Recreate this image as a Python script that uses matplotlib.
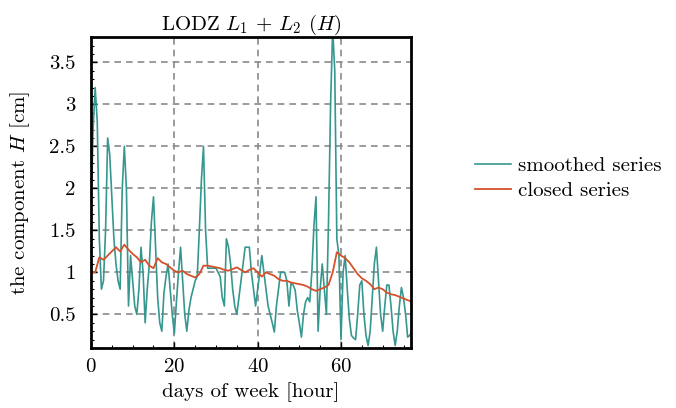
import numpy as np
import matplotlib
matplotlib.use('Agg')
from matplotlib import pyplot as plt
from matplotlib.ticker import MultipleLocator, FuncFormatter

plt.rcParams['font.family'] = ['cmr10', 'DejaVu Serif']
plt.rcParams['mathtext.fontset'] = 'cm'
plt.rcParams['axes.formatter.use_mathtext'] = True

title = r'LODZ $L_1$ + $L_2$ ($H$)'
x_label = 'days of week [hour]'
y_label = r'the component $H$ [cm]'
smooth_label = 'smoothed series'
closed_label = 'closed series'

# teal series, one value every half hour
smooth_hours = np.arange(0, 77.5, 0.5)
smooth_values = [
    1.7, 2.7, 3.2, 2.8, 1.4, 0.8, 0.9, 1.5, 2.6, 2.4,
    1.9, 1.4, 1.1, 0.9, 0.8, 2.0, 2.5, 2.0, 0.6, 1.2,
    0.9, 0.6, 0.5, 0.8, 1.3, 1.0, 0.4, 0.8, 1.1, 1.6,
    1.9, 1.3, 0.7, 0.4, 0.3, 0.75, 0.95, 1.1, 0.8, 0.5,
    0.27, 0.65, 1.0, 1.3, 0.9, 0.5, 0.3, 0.55, 0.7, 0.8,
    0.9, 0.95, 1.5, 2.1, 2.5, 1.5, 1.05, 1.05, 1.05, 1.05,
    1.05, 1.0, 0.95, 0.7, 0.6, 1.4, 1.3, 1.1, 0.8, 0.6,
    0.5, 0.7, 0.9, 1.1, 1.3, 1.3, 1.3, 1.0, 0.8, 0.6,
    0.8, 1.0, 1.2, 1.0, 0.8, 0.6, 0.5, 0.4, 0.29, 0.6,
    0.8, 1.0, 1.0, 1.0, 0.9, 0.6, 0.87, 0.85, 0.79, 0.55,
    0.4, 0.23, 0.5, 0.65, 0.7, 0.65, 1.0, 1.55, 1.9, 0.3,
    0.8, 1.1, 0.8, 0.5, 1.6, 3.0, 3.9, 3.4, 1.4, 1.2,
    0.2, 1.0, 1.2, 0.8, 0.45, 0.25, 0.22, 0.2, 0.5, 0.85,
    0.9, 0.5, 0.25, 0.13, 0.3, 0.7, 1.1, 1.3, 0.9, 0.5,
    0.3, 0.6, 0.85, 0.85, 0.6, 0.3, 0.13, 0.3, 0.6, 0.82,
    0.7, 0.5, 0.23, 0.25, 0.3,
]

# red series, one value every hour
closed_hours = np.arange(0, 78, 1)
closed_values = [
    1.0, 1.0, 1.18, 1.15, 1.2, 1.25, 1.3, 1.25, 1.33, 1.27,
    1.22, 1.18, 1.12, 1.15, 1.08, 1.05, 1.17, 1.12, 1.1, 1.06,
    1.02, 1.0, 1.02, 0.98, 0.96, 0.94, 0.98, 1.08, 1.08, 1.07,
    1.06, 1.05, 1.03, 1.02, 1.04, 1.06, 1.03, 1.0, 1.03, 1.05,
    1.0, 0.95, 1.0, 0.98, 0.96, 0.92, 0.9, 0.9, 0.88, 0.87,
    0.86, 0.85, 0.83, 0.8, 0.78, 0.8, 0.82, 0.85, 1.0, 1.24,
    1.2, 1.17, 1.12, 1.05, 0.98, 0.93, 0.9, 0.86, 0.8, 0.82,
    0.8, 0.76, 0.74, 0.73, 0.71, 0.69, 0.67, 0.65,
]

teal = '#35978f'
red = '#d4512b'
fs = 15

fig = plt.figure(figsize=(6.76, 4.08), dpi=100)
ax = fig.add_axes([0.1346, 0.147, 0.4734, 0.762])

ax.plot(smooth_hours, smooth_values, color=teal, lw=1.2, label=smooth_label)
ax.plot(closed_hours, closed_values, color=red, lw=1.3, label=closed_label)

ax.set_xlim(0, 76.8)
ax.set_ylim(0.1, 3.8)
ax.xaxis.set_major_locator(MultipleLocator(20))
ax.xaxis.set_minor_locator(MultipleLocator(5))
ax.yaxis.set_major_locator(MultipleLocator(0.5))
ax.yaxis.set_minor_locator(MultipleLocator(0.1))
ax.yaxis.set_major_formatter(FuncFormatter(lambda v, p: '%g' % v))
ax.tick_params(which='both', direction='in', labelsize=fs, top=False, right=False)
ax.tick_params(which='major', length=4, width=1)
ax.tick_params(which='minor', length=2.5, width=0.8)
ax.tick_params(axis='y', which='major', pad=11)
ax.tick_params(axis='x', which='major', pad=7)
ax.grid(True, which='major', color='#8a8a8a', ls=(0, (4, 3)), lw=1.2)

for spine in ax.spines.values():
    spine.set_linewidth(2)

ax.set_title(title, fontsize=fs, pad=4)
ax.set_xlabel(x_label, fontsize=fs, labelpad=5)
ax.set_ylabel(y_label, fontsize=fs, labelpad=12)

ax.legend(loc='center left', bbox_to_anchor=(1.2, 0.545), frameon=False,
          fontsize=fs, handlelength=1.75, handletextpad=0.3, labelspacing=0.3,
          borderaxespad=0, borderpad=0)

plt.savefig('out.png', dpi=100)
